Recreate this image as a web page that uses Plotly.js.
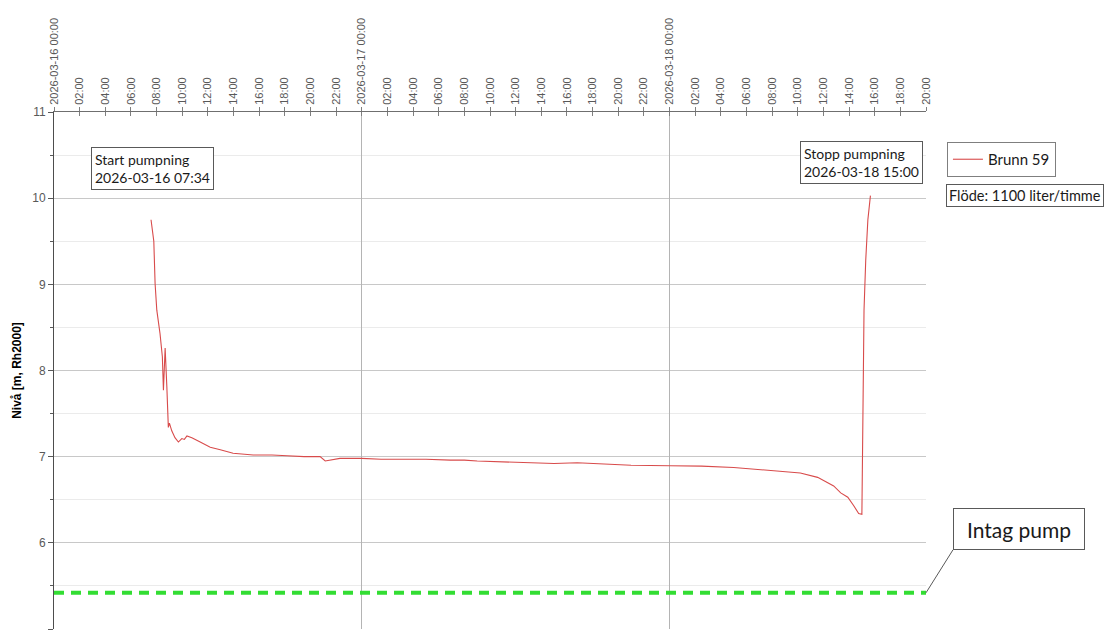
<!DOCTYPE html>
<html>
<head>
<meta charset="utf-8">
<script src="https://cdn.plot.ly/plotly-3.0.1.min.js"></script>
<style>html,body{margin:0;padding:0;background:#fff;}#chart{width:1106px;height:630px;}</style>
</head>
<body>
<div id="chart"></div>
<script>
// ---- data ----
const seriesName = "Brunn 59";
const times = [
  "2026-03-16 07:34","2026-03-16 07:47","2026-03-16 07:53","2026-03-16 08:01","2026-03-16 08:16",
  "2026-03-16 08:27","2026-03-16 08:32","2026-03-16 08:40","2026-03-16 08:48","2026-03-16 08:55",
  "2026-03-16 09:00","2026-03-16 09:11","2026-03-16 09:26","2026-03-16 09:42","2026-03-16 09:58",
  "2026-03-16 10:10","2026-03-16 10:22","2026-03-16 10:45","2026-03-16 11:24","2026-03-16 12:11",
  "2026-03-16 12:58","2026-03-16 13:58","2026-03-16 15:32","2026-03-16 17:00","2026-03-16 18:11",
  "2026-03-16 19:30","2026-03-16 20:45","2026-03-16 21:09","2026-03-16 22:18","2026-03-17 00:00",
  "2026-03-17 01:30","2026-03-17 03:00","2026-03-17 05:00","2026-03-17 06:54","2026-03-17 08:00",
  "2026-03-17 09:00","2026-03-17 10:48","2026-03-17 12:00","2026-03-17 13:24","2026-03-17 15:00",
  "2026-03-17 16:48","2026-03-17 18:36","2026-03-17 21:00","2026-03-18 00:00","2026-03-18 02:30",
  "2026-03-18 05:00","2026-03-18 07:39","2026-03-18 10:12","2026-03-18 11:33","2026-03-18 12:48",
  "2026-03-18 13:21","2026-03-18 13:54","2026-03-18 14:22","2026-03-18 14:45","2026-03-18 15:00",
  "2026-03-18 15:05","2026-03-18 15:10","2026-03-18 15:18","2026-03-18 15:28","2026-03-18 15:40"
];
const levels = [
  9.75, 9.50, 9.01, 8.70, 8.43,
  8.16, 7.77, 8.26, 7.81, 7.34,
  7.39, 7.30, 7.22, 7.17, 7.21,
  7.20, 7.24, 7.22, 7.17, 7.11,
  7.08, 7.04, 7.02, 7.02, 7.01,
  7.00, 7.00, 6.95, 6.98, 6.98,
  6.97, 6.97, 6.97, 6.96, 6.96,
  6.95, 6.94, 6.94, 6.93, 6.92,
  6.93, 6.92, 6.90, 6.895, 6.89,
  6.875, 6.845, 6.81, 6.76, 6.66,
  6.58, 6.53, 6.43, 6.34, 6.33,
  7.80, 8.70, 9.28, 9.75, 10.03
];
const intakeName = "Intag pump";
const intakeLevel = 5.42;
const xStart = "2026-03-16 00:00";
const xEnd = "2026-03-18 20:00";
const dayBoundaries = ["2026-03-16 00:00","2026-03-17 00:00","2026-03-18 00:00"];
const yTicks = [5, 6, 7, 8, 9, 10, 11];
const yTitle = "Nivå [m, Rh2000]";
const startNote = "Start pumpning<br>2026-03-16 07:34";
const stopNote = "Stopp pumpning<br>2026-03-18 15:00";
const flowNote = "Flöde: 1100 liter/timme";

// tick labels every 2 hours
const tickVals = [];
const tickText = [];
function pad(n){ return (n < 10 ? "0" : "") + n; }
for (let h = 0; h <= 68; h += 2) {
  const day = 16 + Math.floor(h / 24);
  const hh = h % 24;
  const s = "2026-03-" + day + " " + pad(hh) + ":00";
  tickVals.push(s);
  tickText.push(hh === 0 ? s : pad(hh) + ":00");
}

const calibriLike = "Lato, 'Noto Sans', sans-serif";
const noteFont = {family: calibriLike, size: 14, color: "#1a1a1a"};

const traces = [
  {
    x: times, y: levels, type: "scatter", mode: "lines", name: seriesName,
    line: {color: "#d84b4b", width: 1.1}, xaxis: "x", yaxis: "y"
  },
  {
    x: [xStart, xEnd], y: [intakeLevel, intakeLevel], type: "scatter", mode: "lines",
    name: intakeName, showlegend: false,
    line: {color: "#33dd33", width: 4, dash: "10px,7px"}, xaxis: "x2", yaxis: "y"
  }
];

const layout = {
  width: 1106, height: 630,
  margin: {l: 54, r: 180, t: 112, b: 1, pad: 0},
  paper_bgcolor: "#ffffff", plot_bgcolor: "#ffffff",
  font: {family: "Liberation Sans, Arial, sans-serif", color: "#595959"},
  showlegend: true,
  legend: {
    x: 1.024, y: 0.942, xanchor: "left", yanchor: "top",
    bordercolor: "#7f7f7f", borderwidth: 1, bgcolor: "#ffffff",
    font: {family: calibriLike, size: 15, color: "#1a1a1a"}
  },
  xaxis: {
    type: "date", side: "top", range: [xStart, xEnd],
    tickmode: "array", tickvals: tickVals, ticktext: tickText, tickangle: -90,
    tickfont: {size: 11, color: "#595959", family: "Liberation Sans, Arial, sans-serif"},
    ticks: "outside", ticklen: 4, tickcolor: "#7f7f7f",
    showgrid: false, zeroline: false,
    showline: true, linecolor: "#6f6f6f", linewidth: 1,
    fixedrange: true, automargin: false
  },
  xaxis2: {
    type: "date", overlaying: "x", side: "top", range: [xStart, xEnd],
    tickmode: "array", tickvals: dayBoundaries, showticklabels: false,
    ticks: "inside", ticklen: 4, tickcolor: "#7f7f7f",
    minor: {tickmode: "array", tickvals: tickVals, ticks: "inside", ticklen: 4, tickcolor: "#7f7f7f", showgrid: false},
    showgrid: true, gridcolor: "#b4b4b4", gridwidth: 1,
    zeroline: false, showline: false, automargin: false, fixedrange: true
  },
  yaxis: {
    range: [5, 11], tickmode: "array", tickvals: yTicks,
    tickfont: {size: 12, color: "#595959", family: "Liberation Sans, Arial, sans-serif"},
    ticks: "outside", ticklen: 5, tickcolor: "#595959",
    minor: {dtick: 0.5, showgrid: true, gridcolor: "#ebebeb", ticks: "outside", ticklen: 3, tickcolor: "#595959"},
    showgrid: true, gridcolor: "#c8c8c8", gridwidth: 1,
    zeroline: false, showline: true, linecolor: "#4d4d4d", linewidth: 1,
    title: {text: yTitle, font: {size: 12, color: "#000000", family: "Liberation Sans, Arial, sans-serif", weight: "bold"}, standoff: 8},
    automargin: false, fixedrange: true
  },
  annotations: [
    {
      xref: "paper", yref: "paper", x: 0.0424, y: 0.9323, xanchor: "left", yanchor: "top",
      text: startNote, align: "left", showarrow: false, font: noteFont,
      bordercolor: "#595959", borderwidth: 1, borderpad: 3, bgcolor: "#ffffff"
    },
    {
      xref: "paper", yref: "paper", x: 0.8555, y: 0.9439, xanchor: "left", yanchor: "top",
      text: stopNote, align: "left", showarrow: false, font: noteFont,
      bordercolor: "#595959", borderwidth: 1, borderpad: 3, bgcolor: "#ffffff"
    },
    {
      xref: "paper", yref: "paper", x: 1.0229, y: 0.8607, xanchor: "left", yanchor: "top",
      text: flowNote, align: "left", showarrow: false,
      font: {family: calibriLike, size: 14.5, color: "#1a1a1a"},
      bordercolor: "#595959", borderwidth: 1, borderpad: 2, bgcolor: "#ffffff"
    },
    {
      xref: "x", yref: "y", x: xEnd, y: intakeLevel,
      text: intakeName, showarrow: true, arrowhead: 0, arrowwidth: 1, arrowcolor: "#595959",
      ax: 27, ay: -43, xanchor: "left", yanchor: "bottom",
      width: 118, height: 28, align: "center",
      font: {family: calibriLike, size: 21, color: "#1a1a1a"},
      bordercolor: "#595959", borderwidth: 1, borderpad: 6, bgcolor: "#ffffff"
    }
  ]
};

Plotly.newPlot("chart", traces, layout, {displayModeBar: false, staticPlot: true});
</script>
</body>
</html>
